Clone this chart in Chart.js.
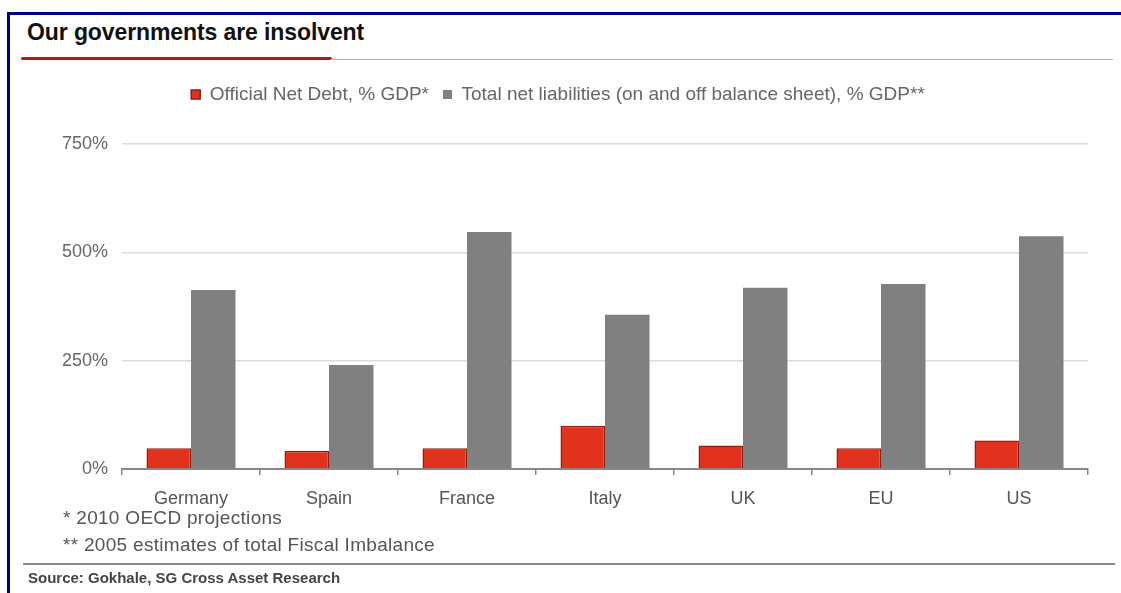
<!DOCTYPE html>
<html>
<head>
<meta charset="utf-8">
<script src="https://cdn.jsdelivr.net/npm/chart.js@4.4.1/dist/chart.umd.min.js"></script>
<style>
    body { margin: 0; width: 1121px; height: 593px; background: #fff; position: relative; overflow: hidden; font-family: "Liberation Sans", Arial, sans-serif; }
    .frameTop { position: absolute; left: 7px; top: 12px; width: 1114px; height: 3px; background: #000080; }
    .frameLeft { position: absolute; left: 7px; top: 12px; width: 3px; height: 581px; background: #000080; }
    .title { position: absolute; left: 27px; top: 19px; font-size: 23px; font-weight: bold; color: #111; line-height: 26px; letter-spacing: -0.1px; }
    .redThick { position: absolute; left: 21px; top: 57px; width: 311px; height: 3px; background: #a3201b; border-radius: 2px; }
    .redThin { position: absolute; left: 330px; top: 59px; width: 783px; height: 1px; background: #d3a3a3; }
    .note { position: absolute; left: 63px; font-size: 19px; color: #555; line-height: 20px; letter-spacing: 0.3px; }
    .sep { position: absolute; left: 23px; top: 563px; width: 1092px; height: 2px; background: #8c8c8c; }
    .source { position: absolute; left: 28px; top: 570px; font-size: 15px; font-weight: bold; color: #444; line-height: 16px; }
    #wrap { position: absolute; left: 0; top: 65px; width: 1121px; height: 445px; }
</style>
</head>
<body>
<div class="frameTop"></div>
<div class="frameLeft"></div>
<div class="title">Our governments are insolvent</div>
<div class="redThick"></div>
<div class="redThin"></div>
<div id="wrap"><canvas id="graph"></canvas></div>
<div class="note" style="top:508px">* 2010 OECD projections</div>
<div class="note" style="top:535px">** 2005 estimates of total Fiscal Imbalance</div>
<div class="sep"></div>
<div class="source">Source: Gokhale, SG Cross Asset Research</div>

<script>
// Datos
const categories = ['Germany', 'Spain', 'France', 'Italy', 'UK', 'EU', 'US'];
const netDebt = [48, 42, 48, 100, 54, 48, 66];
const totalLiabilities = [413, 240, 547, 356, 418, 427, 537];
const yTicks = [0, 250, 500, 750];

// Espacio extra bajo la leyenda
const legendSpace = {
    id: 'legendSpace',
    beforeInit(chart) {
        const fit = chart.legend.fit;
        chart.legend.fit = function () {
            fit.bind(this)();
            this.height += 30;
        };
    }
};

const ctx = document.getElementById('graph').getContext('2d');
new Chart(ctx, {
    type: 'bar',
    data: {
        labels: categories,
        datasets: [{
            label: 'Official Net Debt, % GDP*',
            data: netDebt,
            backgroundColor: '#e2311c',
            borderColor: '#8e1f14',
            borderWidth: 1.5,
            borderSkipped: 'bottom'
        }, {
            label: 'Total net liabilities (on and off balance sheet), % GDP**',
            data: totalLiabilities,
            backgroundColor: '#808080',
            borderWidth: 0
        }]
    },
    options: {
        responsive: true,
        maintainAspectRatio: false,
        animation: false,
        layout: { padding: { top: 6, left: 28, right: 33, bottom: 0 } },
        datasets: { bar: { categoryPercentage: 0.645, barPercentage: 1 } },
        plugins: {
            legend: {
                position: 'top',
                labels: {
                    boxWidth: 9,
                    boxHeight: 9,
                    padding: 14,
                    color: '#666',
                    font: { family: '"Liberation Sans", Arial, sans-serif', size: 19 }
                }
            },
            tooltip: { enabled: false }
        },
        scales: {
            x: {
                afterFit(scale) { scale.height = 41; },
                grid: { display: true, drawOnChartArea: false, offset: true, tickLength: 6, color: '#888', lineWidth: 1.5 },
                border: { color: '#888', width: 2 },
                ticks: {
                    color: '#555',
                    padding: 13,
                    font: { family: '"Liberation Sans", Arial, sans-serif', size: 18 }
                }
            },
            y: {
                min: 0,
                max: 750,
                afterFit(scale) { scale.width = 94; },
                afterBuildTicks(scale) { scale.ticks = yTicks.map(v => ({ value: v })); },
                grid: { color: '#dcdcdc', lineWidth: 1.5, drawTicks: false },
                border: { display: false },
                ticks: {
                    color: '#666',
                    padding: 14,
                    font: { family: '"Liberation Sans", Arial, sans-serif', size: 18 },
                    callback: v => v + '%'
                }
            }
        }
    },
    plugins: [legendSpace]
});
</script>
</body>
</html>
